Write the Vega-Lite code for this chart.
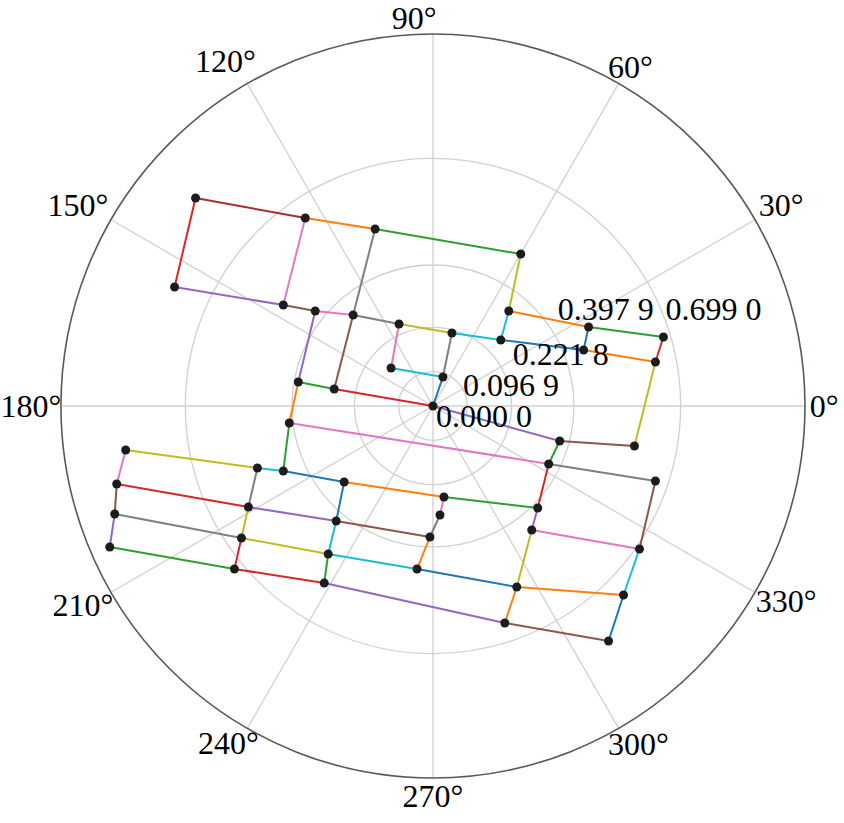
{
  "$schema": "https://vega.github.io/schema/vega-lite/v6.json",
  "width": 844,
  "height": 823,
  "padding": 0,
  "autosize": {"type": "fit", "contains": "padding"},
  "background": "white",
  "config": {"view": {"stroke": null}},
  "datasets": {
    "nodes": [
      {"id": "C", "x": 0, "y": 0},
      {"id": "A", "x": -0.6717, "y": 0.5871},
      {"id": "B", "x": -0.3613, "y": 0.5306},
      {"id": "D", "x": -0.7310, "y": 0.3359},
      {"id": "E", "x": -0.4234, "y": 0.2851},
      {"id": "F", "x": -0.3331, "y": 0.2681},
      {"id": "G", "x": -0.3810, "y": 0.0677},
      {"id": "H", "x": -0.1637, "y": 0.4996},
      {"id": "I", "x": 0.2484, "y": 0.4290},
      {"id": "J", "x": 0.2145, "y": 0.2681},
      {"id": "K", "x": -0.2258, "y": 0.2568},
      {"id": "L", "x": -0.0960, "y": 0.2314},
      {"id": "M", "x": 0.0536, "y": 0.2060},
      {"id": "N", "x": 0.1919, "y": 0.1863},
      {"id": "O", "x": -0.1185, "y": 0.1073},
      {"id": "P", "x": 0.0282, "y": 0.0819},
      {"id": "Q", "x": -0.2794, "y": 0.0480},
      {"id": "R", "x": 0.4403, "y": 0.2230},
      {"id": "S", "x": 0.6520, "y": 0.1948},
      {"id": "T", "x": 0.4262, "y": 0.1581},
      {"id": "U", "x": 0.6294, "y": 0.1242},
      {"id": "V", "x": 0.5701, "y": -0.1129},
      {"id": "W", "x": 0.3585, "y": -0.0988},
      {"id": "X", "x": 0.3274, "y": -0.1637},
      {"id": "Y", "x": 0.6294, "y": -0.2117},
      {"id": "Z", "x": 0.2964, "y": -0.2879},
      {"id": "AA", "x": 0.5843, "y": -0.4036},
      {"id": "AB", "x": 0.5391, "y": -0.5334},
      {"id": "AC", "x": 0.4968, "y": -0.6633},
      {"id": "AD", "x": 0.2794, "y": -0.3500},
      {"id": "AE", "x": 0.2371, "y": -0.5109},
      {"id": "AF", "x": 0.2032, "y": -0.6125},
      {"id": "AG", "x": -0.2512, "y": -0.2145},
      {"id": "AH", "x": 0.0310, "y": -0.2568},
      {"id": "AI", "x": 0.0198, "y": -0.3076},
      {"id": "AJ", "x": -0.2738, "y": -0.3246},
      {"id": "AK", "x": -0.0085, "y": -0.3697},
      {"id": "AL", "x": -0.2964, "y": -0.4177},
      {"id": "AM", "x": -0.0452, "y": -0.4601},
      {"id": "AN", "x": -0.3076, "y": -0.4996},
      {"id": "AO", "x": -0.4064, "y": -0.0480},
      {"id": "AP", "x": -0.8693, "y": -0.1242},
      {"id": "AQ", "x": -0.4967, "y": -0.1750},
      {"id": "AR", "x": -0.4234, "y": -0.1835},
      {"id": "AS", "x": -0.8947, "y": -0.2202},
      {"id": "AT", "x": -0.5222, "y": -0.2851},
      {"id": "AU", "x": -0.9004, "y": -0.3048},
      {"id": "AV", "x": -0.5419, "y": -0.3726},
      {"id": "AW", "x": -0.9145, "y": -0.3980},
      {"id": "AX", "x": -0.5617, "y": -0.4601}
    ],
    "edges": [
      {"s": "A", "t": "B", "c": "darkred"},
      {"s": "A", "t": "D", "c": "red"},
      {"s": "B", "t": "E", "c": "pink"},
      {"s": "D", "t": "E", "c": "purple"},
      {"s": "E", "t": "F", "c": "brown"},
      {"s": "F", "t": "K", "c": "pink"},
      {"s": "F", "t": "G", "c": "purple"},
      {"s": "B", "t": "H", "c": "orange"},
      {"s": "G", "t": "Q", "c": "green"},
      {"s": "G", "t": "AO", "c": "orange"},
      {"s": "H", "t": "I", "c": "green"},
      {"s": "I", "t": "J", "c": "olive"},
      {"s": "J", "t": "R", "c": "orange"},
      {"s": "H", "t": "K", "c": "gray"},
      {"s": "K", "t": "Q", "c": "brown"},
      {"s": "K", "t": "L", "c": "gray"},
      {"s": "L", "t": "M", "c": "olive"},
      {"s": "M", "t": "N", "c": "cyan"},
      {"s": "N", "t": "J", "c": "cyan"},
      {"s": "N", "t": "T", "c": "blue"},
      {"s": "L", "t": "O", "c": "pink"},
      {"s": "O", "t": "P", "c": "cyan"},
      {"s": "P", "t": "M", "c": "gray"},
      {"s": "P", "t": "C", "c": "blue"},
      {"s": "Q", "t": "C", "c": "red"},
      {"s": "R", "t": "S", "c": "green"},
      {"s": "S", "t": "U", "c": "red"},
      {"s": "R", "t": "T", "c": "blue"},
      {"s": "T", "t": "U", "c": "orange"},
      {"s": "U", "t": "V", "c": "olive"},
      {"s": "V", "t": "W", "c": "brown"},
      {"s": "W", "t": "C", "c": "purple"},
      {"s": "W", "t": "X", "c": "green"},
      {"s": "X", "t": "AO", "c": "pink"},
      {"s": "X", "t": "Y", "c": "gray"},
      {"s": "X", "t": "Z", "c": "red"},
      {"s": "Y", "t": "AA", "c": "brown"},
      {"s": "AA", "t": "AB", "c": "cyan"},
      {"s": "AB", "t": "AC", "c": "blue"},
      {"s": "AC", "t": "AF", "c": "brown"},
      {"s": "AB", "t": "AE", "c": "orange"},
      {"s": "AA", "t": "AD", "c": "pink"},
      {"s": "Z", "t": "AH", "c": "green"},
      {"s": "Z", "t": "AD", "c": "purple"},
      {"s": "AD", "t": "AE", "c": "olive"},
      {"s": "AE", "t": "AF", "c": "orange"},
      {"s": "AF", "t": "AN", "c": "purple"},
      {"s": "AH", "t": "AG", "c": "orange"},
      {"s": "AG", "t": "AR", "c": "blue"},
      {"s": "AG", "t": "AJ", "c": "blue"},
      {"s": "AJ", "t": "AK", "c": "brown"},
      {"s": "AJ", "t": "AL", "c": "cyan"},
      {"s": "AL", "t": "AM", "c": "cyan"},
      {"s": "AM", "t": "AE", "c": "blue"},
      {"s": "AL", "t": "AN", "c": "green"},
      {"s": "AN", "t": "AX", "c": "red"},
      {"s": "AH", "t": "AI", "c": "pink"},
      {"s": "AI", "t": "AK", "c": "gray"},
      {"s": "AK", "t": "AM", "c": "orange"},
      {"s": "AJ", "t": "AT", "c": "purple"},
      {"s": "AO", "t": "AR", "c": "green"},
      {"s": "AP", "t": "AQ", "c": "olive"},
      {"s": "AP", "t": "AS", "c": "pink"},
      {"s": "AQ", "t": "AR", "c": "cyan"},
      {"s": "AQ", "t": "AT", "c": "gray"},
      {"s": "AS", "t": "AT", "c": "red"},
      {"s": "AS", "t": "AU", "c": "brown"},
      {"s": "AT", "t": "AV", "c": "olive"},
      {"s": "AU", "t": "AV", "c": "gray"},
      {"s": "AU", "t": "AW", "c": "purple"},
      {"s": "AV", "t": "AL", "c": "olive"},
      {"s": "AV", "t": "AX", "c": "red"},
      {"s": "AW", "t": "AX", "c": "green"}
    ],
    "spokes": [
      {"angle": 0, "cx": 0, "cy": 0, "ex": 1.05, "ey": 0},
      {"angle": 30, "cx": 0, "cy": 0, "ex": 0.9093, "ey": 0.525},
      {"angle": 60, "cx": 0, "cy": 0, "ex": 0.525, "ey": 0.9093},
      {"angle": 90, "cx": 0, "cy": 0, "ex": 0, "ey": 1.05},
      {"angle": 120, "cx": 0, "cy": 0, "ex": -0.525, "ey": 0.9093},
      {"angle": 150, "cx": 0, "cy": 0, "ex": -0.9093, "ey": 0.525},
      {"angle": 180, "cx": 0, "cy": 0, "ex": -1.05, "ey": 0},
      {"angle": 210, "cx": 0, "cy": 0, "ex": -0.9093, "ey": -0.525},
      {"angle": 240, "cx": 0, "cy": 0, "ex": -0.525, "ey": -0.9093},
      {"angle": 270, "cx": 0, "cy": 0, "ex": 0, "ey": -1.05},
      {"angle": 300, "cx": 0, "cy": 0, "ex": 0.525, "ey": -0.9093},
      {"angle": 330, "cx": 0, "cy": 0, "ex": 0.9093, "ey": -0.525}
    ],
    "rings": [
      {"cx": 0, "cy": 0, "r": 0.0969, "kind": "inner"},
      {"cx": 0, "cy": 0, "r": 0.2218, "kind": "inner"},
      {"cx": 0, "cy": 0, "r": 0.3979, "kind": "inner"},
      {"cx": 0, "cy": 0, "r": 0.699, "kind": "inner"},
      {"cx": 0, "cy": 0, "r": 1.05, "kind": "outer"}
    ],
    "rlabels": [
      {"label": "0.000 0", "x": 0.0085, "y": -0.0593},
      {"label": "0.096 9", "x": 0.0847, "y": 0.0282},
      {"label": "0.221 8", "x": 0.2258, "y": 0.1157},
      {"label": "0.397 9", "x": 0.3528, "y": 0.2427},
      {"label": "0.699 0", "x": 0.6576, "y": 0.2427}
    ],
    "alabels": [
      {"label": "0°", "x": 1.1064, "y": -0.0028},
      {"label": "30°", "x": 0.9850, "y": 0.5645},
      {"label": "60°", "x": 0.5588, "y": 0.9540},
      {"label": "90°", "x": -0.0536, "y": 1.0920},
      {"label": "120°", "x": -0.5871, "y": 0.9709},
      {"label": "150°", "x": -1.0048, "y": 0.5645},
      {"label": "180°", "x": -1.1375, "y": -0.0028},
      {"label": "210°", "x": -0.9907, "y": -0.5645},
      {"label": "240°", "x": -0.5786, "y": -0.9540},
      {"label": "270°", "x": 0.0, "y": -1.1036},
      {"label": "300°", "x": 0.5814, "y": -0.9568},
      {"label": "330°", "x": 0.9991, "y": -0.5532}
    ]
  },
  "layer": [
    {
      "data": {"name": "spokes"},
      "mark": {"type": "rule", "stroke": "#d2cfcf", "strokeWidth": 1.3},
      "encoding": {
        "x": {"field": "cx", "type": "quantitative", "scale": {"domain": [-1.2193, 1.1629], "nice": false, "zero": false}, "axis": null},
        "y": {"field": "cy", "type": "quantitative", "scale": {"domain": [-1.1770, 1.1459], "nice": false, "zero": false}, "axis": null},
        "x2": {"field": "ex"},
        "y2": {"field": "ey"}
      }
    },
    {
      "data": {"name": "rings"},
      "mark": {"type": "point", "shape": "circle", "filled": false, "opacity": 1},
      "encoding": {
        "x": {"field": "cx", "type": "quantitative", "scale": {"domain": [-1.2193, 1.1629], "nice": false, "zero": false}, "axis": null},
        "y": {"field": "cy", "type": "quantitative", "scale": {"domain": [-1.1770, 1.1459], "nice": false, "zero": false}, "axis": null},
        "size": {"field": "r", "type": "quantitative", "scale": {"type": "pow", "exponent": 2, "domain": [0, 1.05], "range": [0, 553581]}, "legend": null},
        "stroke": {"field": "kind", "type": "nominal", "scale": {"domain": ["inner", "outer"], "range": ["#d2cfcf", "#5e5656"]}, "legend": null},
        "strokeWidth": {"field": "kind", "type": "nominal", "scale": {"domain": ["inner", "outer"], "range": [1.3, 1.6]}, "legend": null}
      }
    },
    {
      "data": {"name": "edges"},
      "transform": [
        {"lookup": "s", "from": {"data": {"name": "nodes"}, "key": "id", "fields": ["x", "y"]}, "as": ["x1", "y1"]},
        {"lookup": "t", "from": {"data": {"name": "nodes"}, "key": "id", "fields": ["x", "y"]}, "as": ["x2", "y2"]}
      ],
      "mark": {"type": "rule", "strokeWidth": 2},
      "encoding": {
        "x": {"field": "x1", "type": "quantitative", "scale": {"domain": [-1.2193, 1.1629], "nice": false, "zero": false}, "axis": null},
        "y": {"field": "y1", "type": "quantitative", "scale": {"domain": [-1.1770, 1.1459], "nice": false, "zero": false}, "axis": null},
        "x2": {"field": "x2"},
        "y2": {"field": "y2"},
        "color": {
          "field": "c", "type": "nominal", "legend": null,
          "scale": {
            "domain": ["blue", "orange", "green", "red", "purple", "brown", "pink", "gray", "olive", "cyan", "darkred"],
            "range": ["#1f77b4", "#ff7f0e", "#2ca02c", "#d62728", "#9467bd", "#8c564b", "#e377c2", "#7f7f7f", "#bcbd22", "#17becf", "#a3302e"]
          }
        }
      }
    },
    {
      "data": {"name": "nodes"},
      "mark": {"type": "point", "shape": "circle", "filled": true, "color": "#1c1c1c", "size": 81, "opacity": 1},
      "encoding": {
        "x": {"field": "x", "type": "quantitative", "scale": {"domain": [-1.2193, 1.1629], "nice": false, "zero": false}, "axis": null},
        "y": {"field": "y", "type": "quantitative", "scale": {"domain": [-1.1770, 1.1459], "nice": false, "zero": false}, "axis": null}
      }
    },
    {
      "data": {"name": "rlabels"},
      "mark": {"type": "text", "font": "Liberation Serif", "fontSize": 32, "align": "left", "baseline": "alphabetic", "color": "black"},
      "encoding": {
        "x": {"field": "x", "type": "quantitative", "scale": {"domain": [-1.2193, 1.1629], "nice": false, "zero": false}, "axis": null},
        "y": {"field": "y", "type": "quantitative", "scale": {"domain": [-1.1770, 1.1459], "nice": false, "zero": false}, "axis": null},
        "text": {"field": "label"}
      }
    },
    {
      "data": {"name": "alabels"},
      "mark": {"type": "text", "font": "Liberation Serif", "fontSize": 32, "align": "center", "baseline": "middle", "color": "black"},
      "encoding": {
        "x": {"field": "x", "type": "quantitative", "scale": {"domain": [-1.2193, 1.1629], "nice": false, "zero": false}, "axis": null},
        "y": {"field": "y", "type": "quantitative", "scale": {"domain": [-1.1770, 1.1459], "nice": false, "zero": false}, "axis": null},
        "text": {"field": "label"}
      }
    }
  ]
}
